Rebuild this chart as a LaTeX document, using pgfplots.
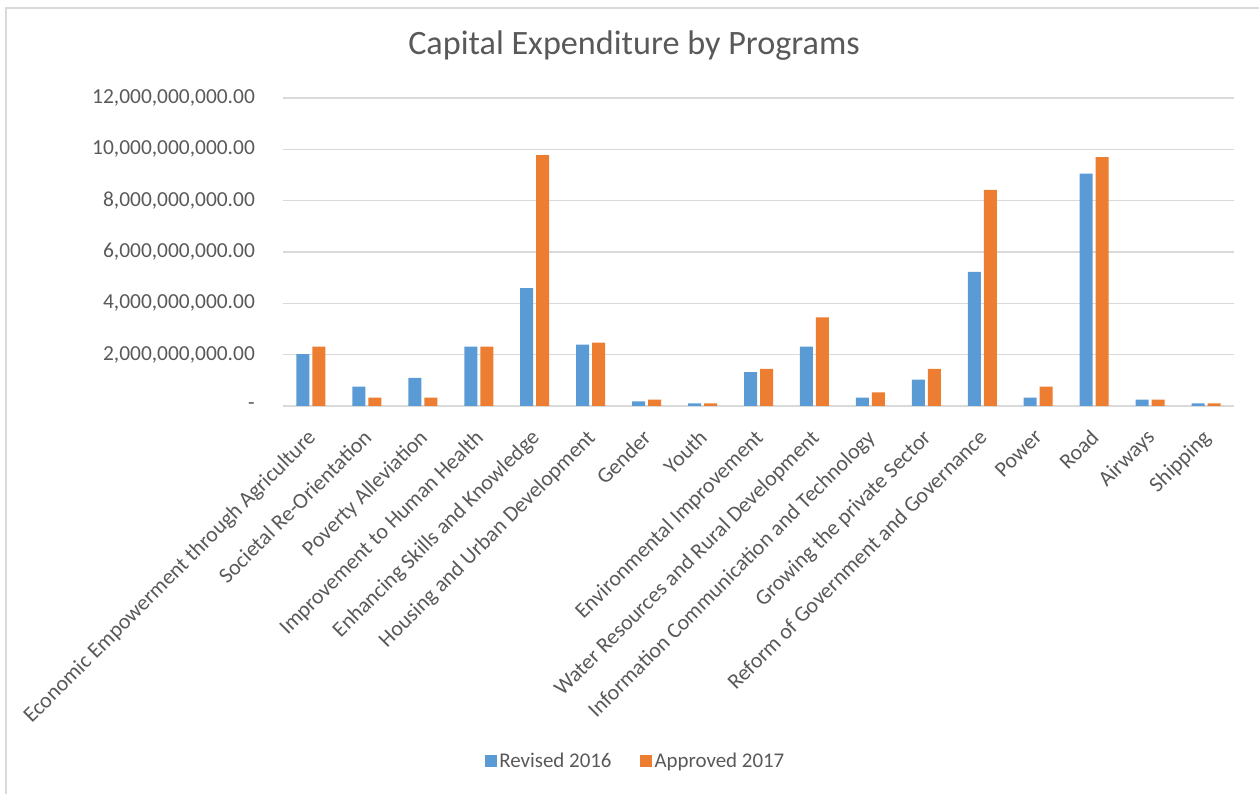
\documentclass[border=0pt]{standalone}
\usepackage{pgfplots}
\pgfplotsset{compat=1.18}
\usepackage{fontspec}
\setmainfont{Carlito}
\definecolor{xlblue}{HTML}{5B9BD5}
\definecolor{xlorange}{HTML}{ED7D31}
\definecolor{xltext}{HTML}{595959}
\definecolor{xlgrid}{HTML}{D9D9D9}
\begin{document}
\begin{tikzpicture}
\useasboundingbox (0,0) rectangle (1259bp,794bp);
\draw[xlgrid, line width=1.2bp] (6bp,0) -- (6bp,786bp) -- (1259bp,786bp);
\node[text=xltext, font=\fontsize{34.3}{40}\selectfont] at (634bp,748bp) {Capital Expenditure by Programs};
\begin{axis}[
  at={(283bp,388bp)}, anchor=south west,
  scale only axis, width=951bp, height=308bp,
  xmin=-0.5, xmax=16.5, ymin=0, ymax=12e9,
  ybar=3bp, bar width=13bp,
  axis line style={draw=none},
  ymajorgrids, grid style={xlgrid, line width=1.2bp},
  major tick length=0pt,
  scaled y ticks=false,
  xtick={0,...,16},
  xticklabels={Economic Empowerment through Agriculture, Societal Re-Orientation, Poverty Alleviation, Improvement to Human Health, Enhancing Skills and Knowledge, Housing and Urban Development, Gender, Youth, Environmental Improvement, Water Resources and Rural Development, Information Communication and Technology, Growing the private Sector, Reform of Government and Governance, Power, Road, Airways, Shipping},
  xticklabel style={xshift=-5bp, yshift=-22bp, rotate=45, anchor=north east, inner sep=0pt, text=xltext, font=\fontsize{22}{26}\selectfont},
  ytick={0,2e9,4e9,6e9,8e9,10e9,12e9},
  yticklabels={{-\hspace{10bp}},{2,000,000,000.00},{4,000,000,000.00},{6,000,000,000.00},{8,000,000,000.00},{10,000,000,000.00},{12,000,000,000.00}},
  yticklabel style={anchor=east, inner sep=0pt, text=xltext, font=\fontsize{21.5}{25}\selectfont, xshift=-28bp},
  legend style={at={(0.371,-1.153)}, anchor=center, draw=none, fill=none, legend columns=2, font=\fontsize{21}{25}\selectfont, text=xltext, /tikz/every even column/.append style={column sep=26bp}, nodes={inner sep=2.5bp}},
  legend image code/.code={\fill[#1] (0bp,-6bp) rectangle (12bp,6bp);},
]
\addplot[fill=xlblue, draw=none] coordinates {
(0,2020000000) (1,750000000) (2,1100000000) (3,2310000000) (4,4590000000) (5,2390000000) (6,180000000) (7,100000000) (8,1320000000) (9,2310000000) (10,330000000) (11,1030000000) (12,5230000000) (13,330000000) (14,9050000000) (15,250000000) (16,100000000)};
\addplot[fill=xlorange, draw=none] coordinates {
(0,2310000000) (1,330000000) (2,330000000) (3,2310000000) (4,9770000000) (5,2470000000) (6,250000000) (7,100000000) (8,1450000000) (9,3450000000) (10,530000000) (11,1450000000) (12,8420000000) (13,750000000) (14,9700000000) (15,250000000) (16,100000000)};
\legend{Revised 2016, Approved 2017}
\end{axis}
\end{tikzpicture}
\end{document}
